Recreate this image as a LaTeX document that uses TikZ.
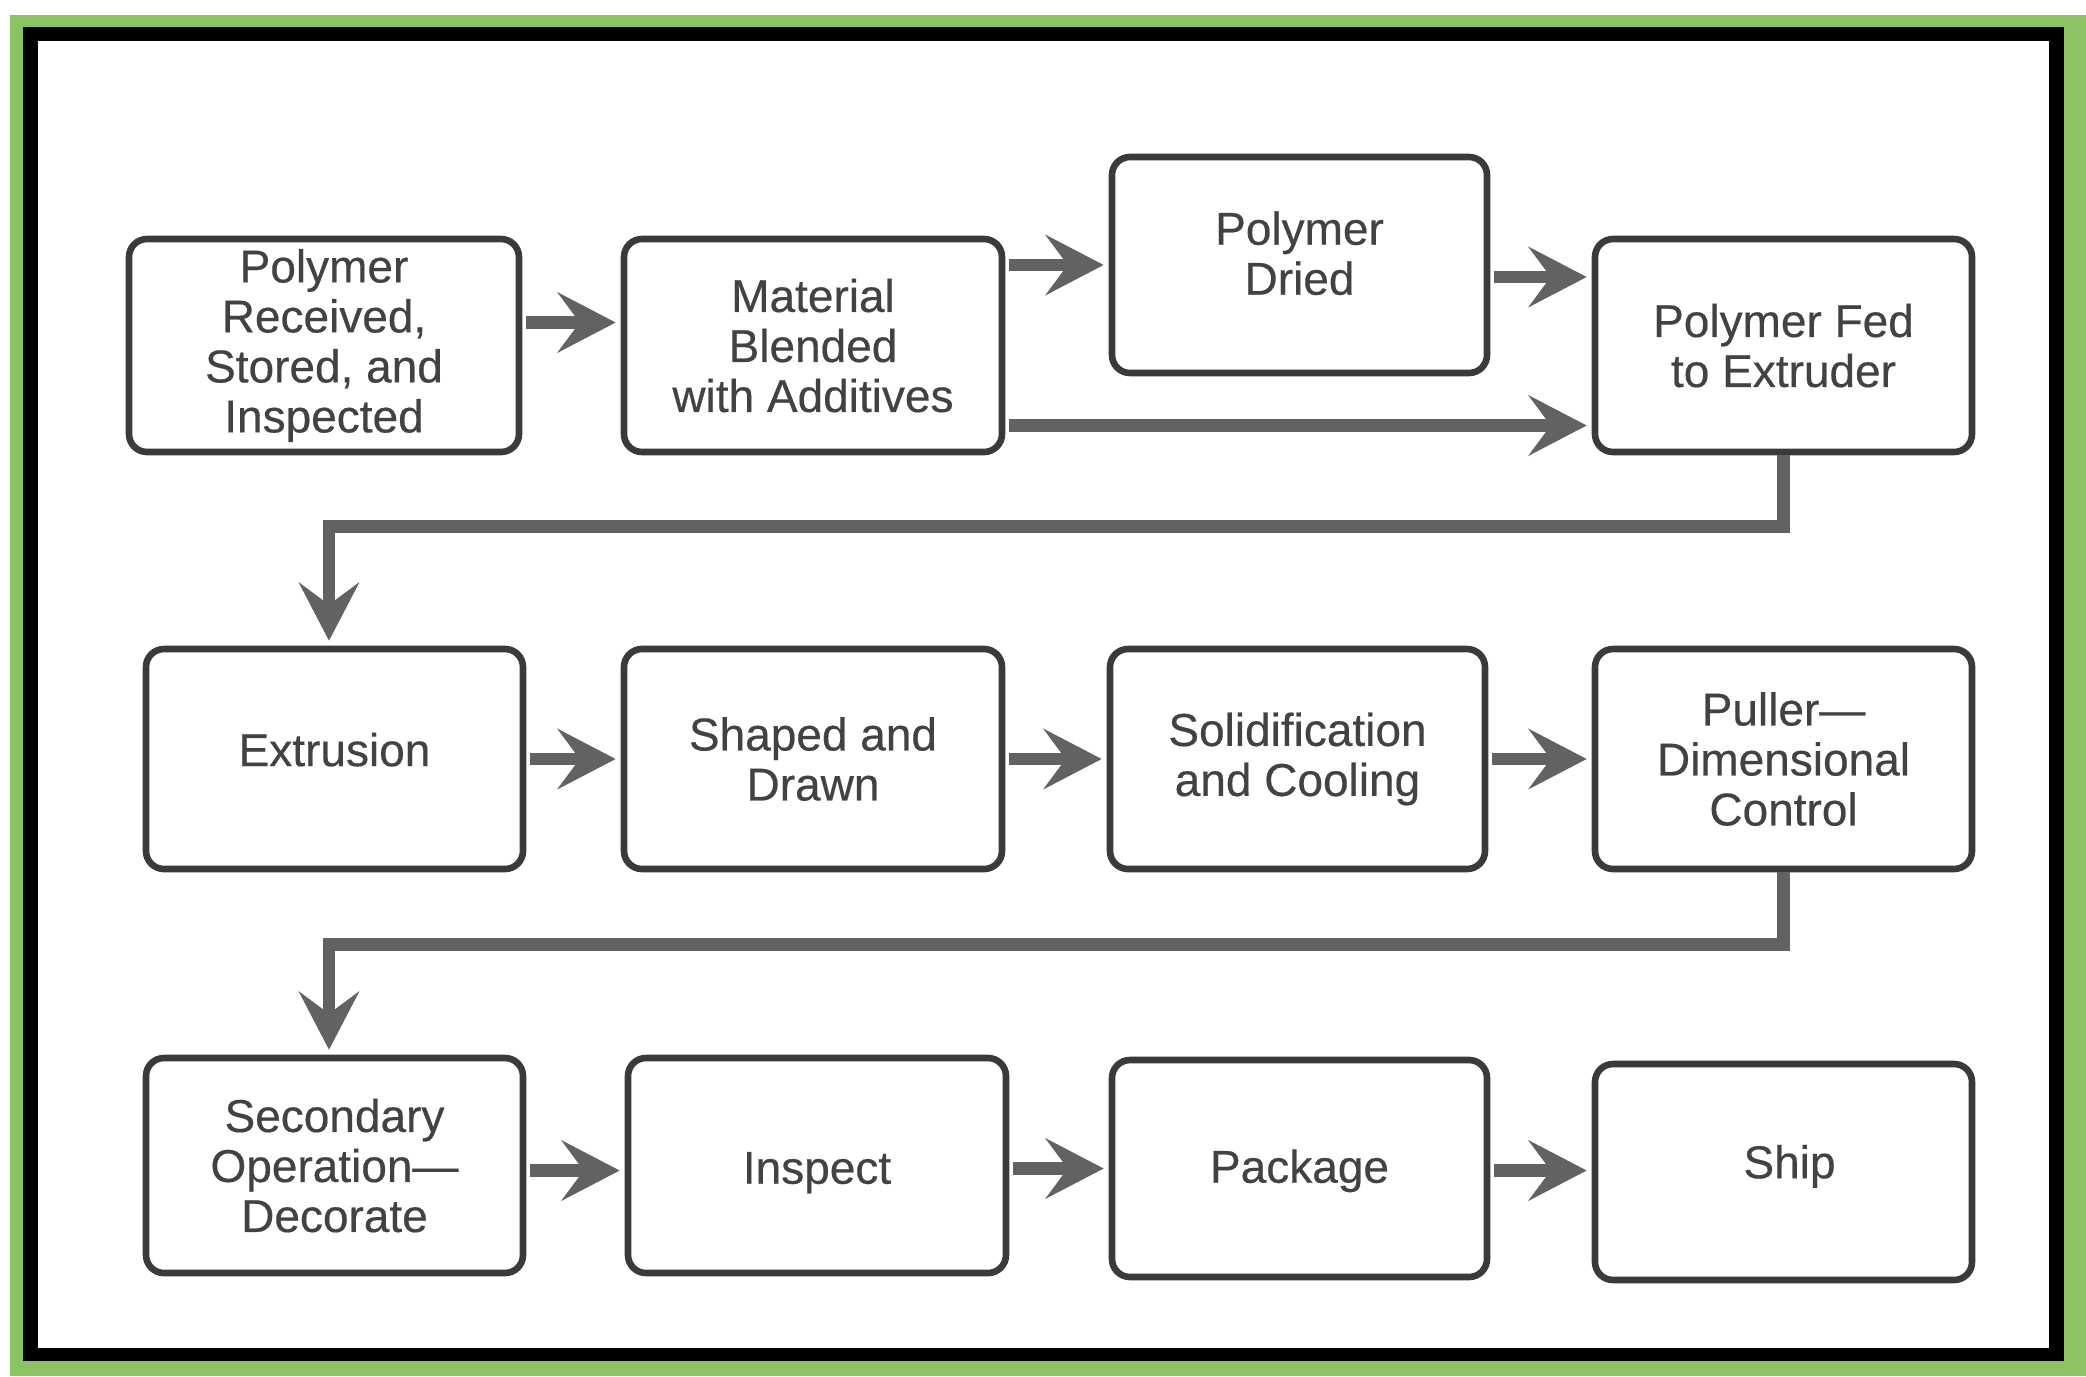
\documentclass[tikz,border=0pt]{standalone}
\usepackage{fontspec}
\setmainfont{Liberation Sans}
\newfontfamily\boxfont{Liberation Sans}[FakeBold=0.4]
\usetikzlibrary{arrows.meta,calc}
\definecolor{framegreen}{RGB}{139,195,98}
\definecolor{boxline}{RGB}{58,58,58}
\definecolor{txt}{RGB}{66,66,66}
\definecolor{arrgray}{RGB}{98,98,98}
\tikzset{
  stepbox/.style={draw=boxline, line width=3.3pt, rounded corners=9pt, fill=white,
    align=center, inner sep=0pt, text=txt, font=\boxfont\fontsize{23}{25}\selectfont},
  arr/.style={draw=arrgray, line width=6.2pt,
    -{Stealth[length=29pt,width=30pt,inset=11pt]}, shorten <=2pt, shorten >=2.5pt},
}
\begin{document}
\begin{tikzpicture}[x=0.5pt,y=-0.5pt]
\useasboundingbox (0,0) rectangle (2086,1376);
% frame
\fill[white] (0,0) rectangle (2086,1376);
\fill[framegreen] (10,15) rectangle (2086,1376);
\fill[black] (23,27) rectangle (2064,1361);
\fill[white] (38,41) rectangle (2049,1348);

% row 1
\node[stepbox, minimum width=195pt, minimum height=106.5pt] (b1) at (324,345.5) {Polymer\\Received,\\Stored, and\\Inspected};
\node[stepbox, minimum width=189pt, minimum height=106.5pt] (b2) at (813,345.5) {Material\\Blended\\with Additives};
\node[stepbox, minimum width=187.5pt, minimum height=108pt, text depth=12pt] (b3) at (1299.5,265) {Polymer\\Dried};
\node[stepbox, minimum width=188.5pt, minimum height=106.5pt] (b4) at (1783.5,345.5) {Polymer Fed\\to Extruder};
% row 2
\node[stepbox, minimum width=188.5pt, minimum height=110pt] (b5) at (334.5,759) {\raisebox{4.7pt}[16.5pt][0pt]{Extrusion}};
\node[stepbox, minimum width=189pt, minimum height=110pt] (b6) at (813,759) {Shaped and\\Drawn};
\node[stepbox, minimum width=187.5pt, minimum height=110pt] (b7) at (1297.5,759) {Solidification\\and Cooling};
\node[stepbox, minimum width=188.5pt, minimum height=110pt] (b8) at (1783.5,759) {Puller—\\Dimensional\\Control};
% row 3
\node[stepbox, minimum width=188.5pt, minimum height=107.5pt] (b9) at (334.5,1165.5) {Secondary\\Operation—\\Decorate};
\node[stepbox, minimum width=189pt, minimum height=107.5pt] (b10) at (817,1165.5) {\raisebox{-3.3pt}[16.5pt][4.9pt]{Inspect}};
\node[stepbox, minimum width=187.5pt, minimum height=108.5pt] (b11) at (1299.5,1168.5) {\raisebox{-1.3pt}[16.5pt][4.9pt]{Package}};
\node[stepbox, minimum width=188.5pt, minimum height=108pt] (b12) at (1783.5,1172) {\raisebox{2.7pt}[16.5pt][4.9pt]{\hspace*{6pt}Ship}};

% row 1 connectors
\coordinate (p0) at ([yshift=11.5pt]b1.east);
\draw[arr] (p0) -- (p0 -| b2.west);
\draw[arr] (b2.east |- b3.west) -- (b3.west);
\coordinate (p1) at ([yshift=-6pt]b3.east);
\draw[arr] (p1) -- (p1 -| b4.west);
\coordinate (p2) at ([yshift=-40pt]b2.east);
\draw[arr] (p2) -- (p2 -| b4.west);

% turn down to row 2
\coordinate (k1) at ([yshift=-35.5pt]b4.south);
\coordinate (t1) at ([xshift=-2.75pt]b5.north);
\draw[arr, shorten <=0pt] (b4.south) -- (k1) -| (t1);

% row 2 connectors
\draw[arr] (b5.east) -- (b5.east -| b6.west);
\draw[arr] (b6.east) -- (b6.east -| b7.west);
\draw[arr] (b7.east) -- (b7.east -| b8.west);

% turn down to row 3
\coordinate (k2) at ([yshift=-36pt]b8.south);
\coordinate (t2) at ([xshift=-2.75pt]b9.north);
\draw[arr, shorten <=0pt] (b8.south) -- (k2) -| (t2);

% row 3 connectors
\coordinate (q1) at ([yshift=-2.5pt]b9.east);
\draw[arr] (q1) -- (q1 -| b10.west);
\draw[arr] (b10.east |- b11.east) -- (b11.west);
\coordinate (q3) at ([yshift=-1pt]b11.east);
\draw[arr] (q3) -- (q3 -| b12.west);
\end{tikzpicture}
\end{document}
